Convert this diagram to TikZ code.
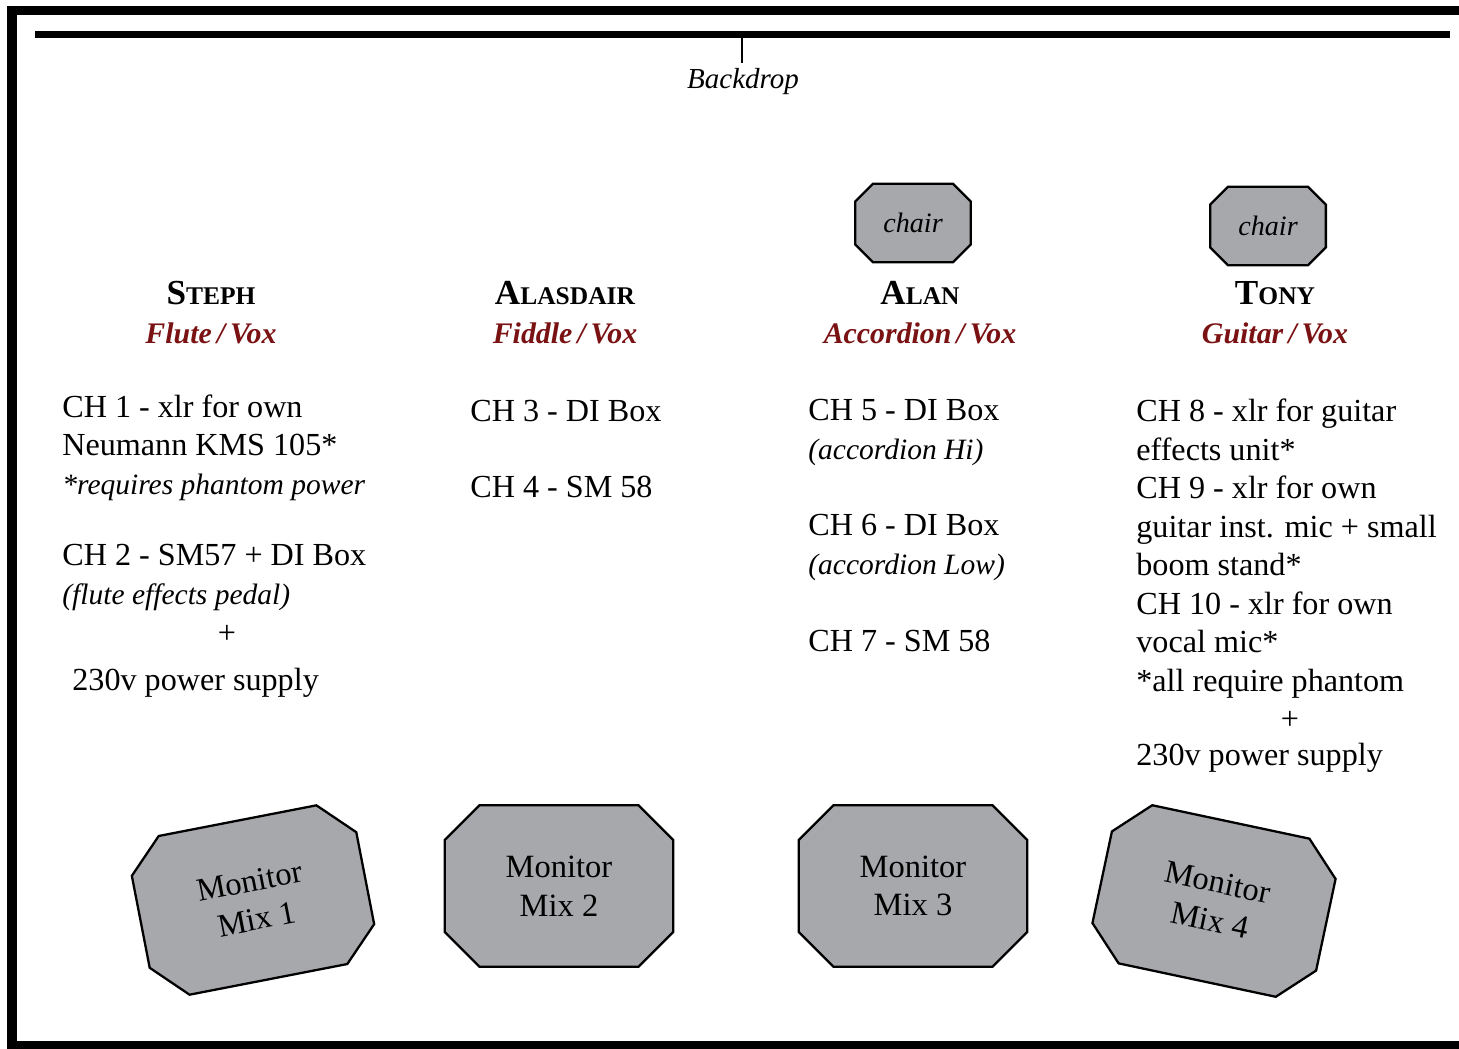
\documentclass[tikz,border=0pt]{standalone}
\usepackage{fontspec}
\setmainfont{Liberation Serif}
\usetikzlibrary{calc}
\definecolor{instred}{RGB}{122,18,20}
\definecolor{kitgray}{RGB}{167,168,172}
\pgfdeclarelayer{background}
\pgfsetlayers{background,main}
% fake small caps for the player names
\newcommand{\playername}[2]{{\fontsize{20}{22}\selectfont #1}{\fontsize{14.5}{16}\selectfont #2}}
\newcommand{\note}[1]{{\fontsize{16.8}{21.9}\selectfont\itshape #1}}
% octagon round a named node, #2 = chamfer
\newcommand{\kitoutline}[2]{%
  \filldraw[fill=kitgray, line width=1.3pt, line join=miter]
    ($(#1.north west)!#2!(#1.north east)$) -- ($(#1.north east)!#2!(#1.north west)$)
    -- ($(#1.north east)!#2!(#1.south east)$) -- ($(#1.south east)!#2!(#1.north east)$)
    -- ($(#1.south east)!#2!(#1.south west)$) -- ($(#1.south west)!#2!(#1.south east)$)
    -- ($(#1.south west)!#2!(#1.north west)$) -- ($(#1.north west)!#2!(#1.south west)$) -- cycle;}

\begin{document}
\begin{tikzpicture}[x=0.02cm, y=-0.02cm,
  body/.style={inner sep=0pt, anchor=base west, align=left, font=\fontsize{18.3}{21.9}\selectfont},
  player/.style={inner sep=0pt, anchor=base, font=\bfseries},
  instr/.style={inner sep=0pt, anchor=base, text=instred, font=\fontsize{17}{18}\selectfont\bfseries\itshape},
  kit/.style={inner sep=0pt, align=center, font=\fontsize{18.5}{22}\selectfont},
  chair/.style={kit, minimum width=2.3cm, minimum height=1.56cm, font=\fontsize{16}{18}\selectfont\itshape},
  monitor/.style={kit, minimum width=4.56cm, minimum height=3.22cm}]
  \useasboundingbox (0,0) rectangle (1459,1048);

  % ================= stage edge and backdrop =================
  \draw[line width=0.2cm] (1459,10.5) -- (12,10.5) -- (12,1046) -- (1459,1046);
  \coordinate (bdWest) at (35,34.5);
  \coordinate (bdEast) at (1450,34.5);
  \coordinate (bdMid) at (742,34.5);
  \draw[line width=0.16cm] (bdWest) -- (bdEast);
  \node[inner sep=0pt, anchor=base, font=\fontsize{16.5}{18}\selectfont\itshape] (backdrop) at (743,88) {Backdrop};
  \draw[line width=1.1pt, shorten >=0.1cm] (bdMid) -- (bdMid |- backdrop.north);

  % ================= chairs =================
  \node[chair] (alanChair) at (913,223) {chair};
  \node[chair] (tonyChair) at (1268,226) {chair};

  % ================= players =================
  \node[player] (steph) at (211,304) {\playername{S}{TEPH}};
  \node[instr] (stephInst) at (211,343) {Flute\,/\,Vox};
  \node[player] (alasdair) at (565,304) {\playername{A}{LASDAIR}};
  \node[instr] (alasdairInst) at (565,343) {Fiddle\,/\,Vox};
  \node[player] (alan) at (920,304) {\playername{A}{LAN}};
  \node[instr] (alanInst) at (920,343) {Accordion\,/\,Vox};
  \node[player] (tony) at (1275,304) {\playername{T}{ONY}};
  \node[instr] (tonyInst) at (1275,343) {Guitar\,/\,Vox};

  % ================= channel lists (base = last line) =================
  \node[body] (stephA) at (62,494) {CH 1 - xlr for own\\Neumann KMS 105*\\\note{*requires phantom power}};
  \node[body] (stephB) at (62,604) {CH 2 - SM57 + DI Box\\\note{(flute effects pedal)}};
  \node[body, anchor=base] (stephPlus) at (227,643) {+};
  \node[body] (stephC) at (72,690) {230v power supply};

  \node[body] (alasdairA) at (470,421) {CH 3 - DI Box};
  \node[body] (alasdairB) at (470,497) {CH 4 - SM 58};

  \node[body] (alanA) at (808,459) {CH 5 - DI Box\\\note{(accordion Hi)}};
  \node[body] (alanB) at (808,574) {CH 6 - DI Box\\\note{(accordion Low)}};
  \node[body] (alanC) at (808,651) {CH 7 - SM 58};

  \node[body] (tonyA) at (1136,691) {CH 8 - xlr for guitar\\effects unit*\\CH 9 - xlr for own\\guitar inst. mic + small\\boom stand*\\CH 10 - xlr for own\\vocal mic*\\*all require phantom};
  \node[body, anchor=base] (tonyPlus) at (1290,729) {+};
  \node[body] (tonyC) at (1136,765) {230v power supply};

  % ================= monitors =================
  \node[monitor, rotate=11] (monOne) at (253,900) {Monitor\\Mix 1};
  \node[monitor] (monTwo) at (559,886) {Monitor\\Mix 2};
  \node[monitor] (monThree) at (913,886) {Monitor\\Mix 3};
  \node[monitor, rotate=-12] (monFour) at (1214,901) {Monitor\\Mix 4};

  % ================= outlines behind the texts =================
  \begin{pgfonlayer}{background}
    \kitoutline{alanChair}{0.36cm}
    \kitoutline{tonyChair}{0.36cm}
    \kitoutline{monOne}{0.68cm}
    \kitoutline{monTwo}{0.7cm}
    \kitoutline{monThree}{0.7cm}
    \kitoutline{monFour}{0.68cm}
  \end{pgfonlayer}
\end{tikzpicture}
\end{document}
